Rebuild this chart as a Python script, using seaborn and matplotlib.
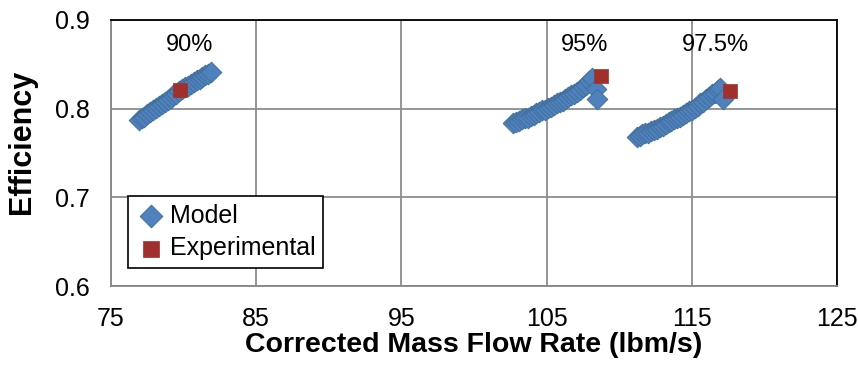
import matplotlib
matplotlib.use("Agg")
import matplotlib.pyplot as plt
import seaborn as sns
import pandas as pd

# ---- data ----
model_90_x = [76.9, 77.1, 77.3, 77.5, 77.7, 77.9, 78.1, 78.3, 78.5, 78.7, 78.9, 79.1, 79.3,
              79.5, 79.7, 79.9, 80.1, 80.3, 80.5, 80.7, 80.9, 81.1, 81.3, 81.5, 81.7, 81.9]
model_90_y = [0.787, 0.789, 0.791, 0.794, 0.796, 0.798, 0.801, 0.803, 0.805, 0.808, 0.810, 0.812, 0.815,
              0.817, 0.820, 0.822, 0.824, 0.826, 0.828, 0.830, 0.832, 0.834, 0.836, 0.838, 0.839, 0.841]

model_95_x = [102.7, 102.9, 103.1, 103.3, 103.5, 103.7, 103.9, 104.1, 104.3, 104.5, 104.7, 104.9,
              105.1, 105.3, 105.5, 105.7, 105.9, 106.1, 106.3, 106.5, 106.7, 106.9, 107.1, 107.3,
              107.5, 107.7, 107.9, 108.1, 108.4, 108.5]
model_95_y = [0.784, 0.785, 0.786, 0.788, 0.789, 0.790, 0.792, 0.793, 0.795, 0.796, 0.798, 0.799,
              0.801, 0.802, 0.804, 0.806, 0.807, 0.809, 0.811, 0.813, 0.815, 0.817, 0.819, 0.821,
              0.824, 0.827, 0.831, 0.835, 0.822, 0.811]

model_975_x = [111.2, 111.4, 111.6, 111.8, 112.0, 112.2, 112.4, 112.6, 112.8, 113.0, 113.2, 113.4,
               113.6, 113.8, 114.0, 114.2, 114.4, 114.6, 114.8, 115.0, 115.2, 115.4, 115.6, 115.8,
               116.0, 116.2, 116.4, 116.6, 116.8, 116.95, 117.15]
model_975_y = [0.768, 0.769, 0.771, 0.772, 0.773, 0.775, 0.776, 0.777, 0.779, 0.781, 0.783, 0.785,
               0.786, 0.788, 0.790, 0.791, 0.793, 0.795, 0.797, 0.799, 0.801, 0.803, 0.806, 0.808,
               0.811, 0.813, 0.816, 0.818, 0.821, 0.823, 0.811]

exp_x = [79.75, 108.75, 117.63]
exp_y = [0.821, 0.837, 0.820]

speed_labels = ["90%", "95%", "97.5%"]
speed_label_x = [80.4, 107.6, 116.6]
speed_label_y = [0.872, 0.872, 0.872]

x_ticks = [75, 85, 95, 105, 115, 125]
y_ticks = [0.6, 0.7, 0.8, 0.9]

model_df = pd.DataFrame({
    "x": model_90_x + model_95_x + model_975_x,
    "y": model_90_y + model_95_y + model_975_y,
})
exp_df = pd.DataFrame({"x": exp_x, "y": exp_y})

sns.set_style("white")
plt.rcParams["font.family"] = ["Liberation Sans", "DejaVu Sans"]
plt.rcParams["text.color"] = "black"
plt.rcParams["axes.labelcolor"] = "black"
plt.rcParams["xtick.color"] = "black"
plt.rcParams["ytick.color"] = "black"

fig = plt.figure(figsize=(8.58, 3.73), dpi=100)
ax = fig.add_axes([0.1294, 0.2332, 0.8461, 0.7132])

sns.scatterplot(data=model_df, x="x", y="y", ax=ax, marker="D", s=110,
                color="#4F81BD", edgecolor="#41709E", linewidth=0.7,
                label="Model", zorder=3)
sns.scatterplot(data=exp_df, x="x", y="y", ax=ax, marker="s", s=105,
                color="#A0302D", edgecolor="#A0302D", linewidth=0.5,
                label="Experimental", zorder=4)

for t, xx, yy in zip(speed_labels, speed_label_x, speed_label_y):
    ax.text(xx, yy, t, ha="center", va="center", fontsize=17, color="black")

ax.set_xlim(75, 125)
ax.set_ylim(0.6, 0.9)
ax.set_xticks(x_ticks)
ax.set_yticks(y_ticks)
ax.set_xticklabels([str(v) for v in x_ticks])
ax.set_yticklabels([f"{v:.1f}" for v in y_ticks])
ax.tick_params(axis="both", labelsize=18, length=6, width=1.2, color="#868686",
               labelcolor="black", direction="out", pad=9)
ax.grid(True, color="#8C8C8C", linewidth=1.3)
ax.set_axisbelow(True)

for side in ["left", "bottom"]:
    ax.spines[side].set_color("#868686")
    ax.spines[side].set_linewidth(1.3)
for side in ["top", "right"]:
    ax.spines[side].set_visible(True)
    ax.spines[side].set_color("black")
    ax.spines[side].set_linewidth(1.3)

ax.set_xlabel("Corrected Mass Flow Rate (lbm/s)", fontsize=20.5, fontweight="bold", labelpad=1)
ax.set_ylabel("Efficiency", fontsize=22, fontweight="bold")
ax.yaxis.set_label_coords(-0.102, 0.54)

leg = ax.legend(loc="lower left", bbox_to_anchor=(0.023, 0.068), fontsize=18,
                frameon=True, fancybox=False, edgecolor="black",
                handletextpad=0.1, borderpad=0.3, labelspacing=0.35,
                handlelength=1.3, borderaxespad=0, markerscale=1.1)
leg.get_frame().set_linewidth(1.2)
leg.get_frame().set_alpha(1)

fig.savefig("out.png", dpi=100)
